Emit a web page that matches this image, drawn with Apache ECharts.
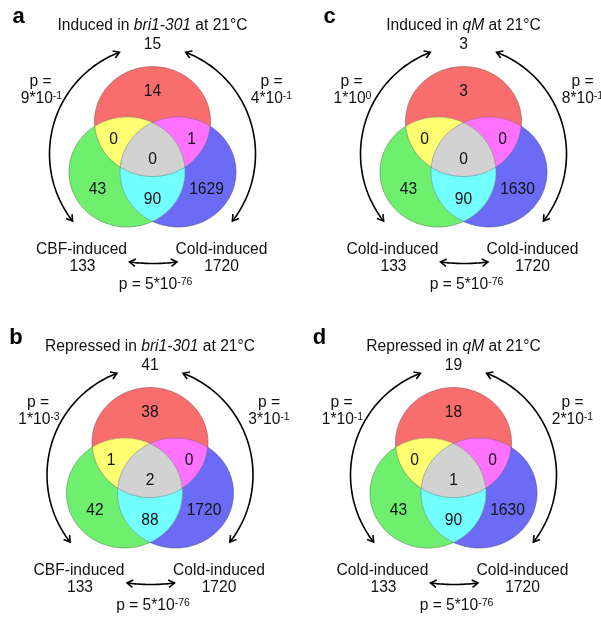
<!DOCTYPE html>
<html>
<head>
<meta charset="utf-8">
<script src="https://cdn.jsdelivr.net/npm/echarts@6/dist/echarts.min.js"></script>
<style>
  html, body { margin: 0; padding: 0; background: #fff; }
  #chart { width: 601px; height: 619px; }
</style>
</head>
<body>
<div id="chart"></div>
<script>
// ---- Panel text ----
const panelLetters = ['a', 'b', 'c', 'd'];
const topPrefix = ['Induced in ', 'Repressed in ', 'Induced in ', 'Repressed in '];
const topGenotype = ['bri1-301', 'bri1-301', 'qM', 'qM'];
const topSuffix = ' at 21°C';
const topTotals = [15, 41, 3, 19];
const leftNames = ['CBF-induced', 'CBF-induced', 'Cold-induced', 'Cold-induced'];
const leftTotals = [133, 133, 133, 133];
const rightNames = ['Cold-induced', 'Cold-induced', 'Cold-induced', 'Cold-induced'];
const rightTotals = [1720, 1720, 1720, 1720];

// ---- Region counts (top = red, left = green, right = blue) ----
const topOnly = [14, 38, 3, 18];
const topLeft = [0, 1, 0, 0];
const topRight = [1, 0, 0, 0];
const allThree = [0, 2, 0, 1];
const leftOnly = [43, 42, 43, 43];
const leftRight = [90, 88, 90, 90];
const rightOnly = [1629, 1720, 1630, 1630];

// ---- Overlap p-values: mantissa * 10^exponent ----
const pTopLeftMant = [9, 1, 1, 1];
const pTopLeftExp = [-1, -3, 0, -1];
const pTopRightMant = [4, 3, 8, 2];
const pTopRightExp = [-1, -1, -1, -1];
const pBottomMant = [5, 5, 5, 5];
const pBottomExp = [-76, -76, -76, -76];

// ---- Layout (chart units = pixels of the full-size grid) ----
const PANEL_CENTERS = [[152.5, 150], [150, 471], [463.5, 150], [453.5, 471]];
// Venn circles, drawn slightly squashed vertically (y scaled by Y_SCALE)
const Y_SCALE = 55 / 58;
const CIRCLES = {
  R: { x: 0, y: -30, r: 58 },
  G: { x: -25.5, y: 23.2, r: 58 },
  B: { x: 25.5, y: 23.2, r: 58 }
};
const REGION_STYLE = {
  topOnly:   { fill: '#F86E6E', label: [0, -58] },
  topLeft:   { fill: '#FFFF72', label: [-39, -10] },
  topRight:  { fill: '#FF72FF', label: [39, -10] },
  allThree:  { fill: '#D2D2D2', label: [0, 10] },
  leftOnly:  { fill: '#6EF06E', label: [-55, 40] },
  leftRight: { fill: '#72FFFF', label: [0, 50] },
  rightOnly: { fill: '#6B6BF5', label: [54, 40] }
};
const COUNTS = { topOnly, topLeft, topRight, allThree, leftOnly, leftRight, rightOnly };

const FONT = '"Liberation Sans", Arial, Helvetica, sans-serif';
const FS = 15.6;
const RICH = {
  n: { fontSize: FS, fontFamily: FONT, lineHeight: 17, fill: '#111' },
  i: { fontSize: FS, fontFamily: FONT, fontStyle: 'italic', lineHeight: 17, fill: '#111' },
  s: { fontSize: 10.5, fontFamily: FONT, lineHeight: 10, verticalAlign: 'top', fill: '#111' },
  L: { fontSize: 22, fontWeight: 'bold', fontFamily: FONT, fill: '#000' }
};

// ---- Circle geometry helpers ----
function intersect(c1, c2) {
  const dx = c2.x - c1.x, dy = c2.y - c1.y, d = Math.hypot(dx, dy);
  const a = (c1.r * c1.r - c2.r * c2.r + d * d) / (2 * d);
  const h = Math.sqrt(c1.r * c1.r - a * a);
  const mx = c1.x + a * dx / d, my = c1.y + a * dy / d;
  return [[mx - h * dy / d, my + h * dx / d], [mx + h * dy / d, my - h * dx / d]];
}
function inside(p, c) { return Math.hypot(p[0] - c.x, p[1] - c.y) < c.r - 1e-6; }
function split(c1, c2, c3) {
  const [p, q] = intersect(c1, c2);
  return inside(p, c3) ? { in: p, out: q } : { in: q, out: p };
}
// Points along circle c from P to Q, taking the way round whose midpoint passes pred
function arcPts(c, P, Q, pred) {
  const a0 = Math.atan2(P[1] - c.y, P[0] - c.x);
  const a1 = Math.atan2(Q[1] - c.y, Q[0] - c.x);
  let d = a1 - a0;
  while (d < 0) d += 2 * Math.PI;
  const mid = a0 + d / 2;
  if (!pred([c.x + c.r * Math.cos(mid), c.y + c.r * Math.sin(mid)])) d -= 2 * Math.PI;
  const n = Math.max(8, Math.ceil(Math.abs(d) * 40));
  const pts = [];
  for (let k = 0; k <= n; k++) {
    const t = a0 + d * k / n;
    pts.push([c.x + c.r * Math.cos(t), c.y + c.r * Math.sin(t)]);
  }
  return pts;
}
function fullCircle(c) {
  const pts = [], n = 200;
  for (let k = 0; k < n; k++) {
    const t = 2 * Math.PI * k / n;
    pts.push([c.x + c.r * Math.cos(t), c.y + c.r * Math.sin(t)]);
  }
  return pts;
}

const { R, G, B } = CIRCLES;
const RG = split(R, G, B), RB = split(R, B, G), GB = split(G, B, R);
const inR = p => inside(p, R), inG = p => inside(p, G), inB = p => inside(p, B);
const REGION_SHAPES = {
  topOnly: [arcPts(R, RG.out, RB.out, p => !inG(p) && !inB(p)), arcPts(B, RB.out, GB.in, inR), arcPts(G, GB.in, RG.out, inR)],
  topLeft: [arcPts(G, RG.out, GB.in, inR), arcPts(B, GB.in, RB.in, inG), arcPts(R, RB.in, RG.out, inG)],
  topRight: [arcPts(R, RB.out, RG.in, inB), arcPts(G, RG.in, GB.in, inB), arcPts(B, GB.in, RB.out, inR)],
  allThree: [arcPts(B, GB.in, RB.in, inG), arcPts(R, RB.in, RG.in, p => inG(p) && inB(p)), arcPts(G, RG.in, GB.in, inB)],
  leftOnly: [arcPts(G, GB.out, RG.out, p => !inR(p) && !inB(p)), arcPts(R, RG.out, RB.in, inG), arcPts(B, RB.in, GB.out, inG)],
  rightOnly: [arcPts(B, RB.out, GB.out, p => !inR(p) && !inG(p)), arcPts(G, GB.out, RG.in, inB), arcPts(R, RG.in, RB.out, inB)],
  leftRight: [arcPts(R, RB.in, RG.in, p => inG(p) && inB(p)), arcPts(G, RG.in, GB.out, inB), arcPts(B, GB.out, RB.in, inG)]
};

// Curved double arrows linking the set names
function circleArc(cx, cy, r, d0, d1) {
  const pts = [], n = 80;
  for (let k = 0; k <= n; k++) {
    const t = (d0 + (d1 - d0) * k / n) * Math.PI / 180;
    pts.push([cx + r * Math.cos(t), cy + r * Math.sin(t)]);
  }
  return pts;
}
function sagLine(x0, x1, y, sag) {
  const pts = [], n = 30;
  for (let k = 0; k <= n; k++) {
    const t = k / n;
    pts.push([x0 + (x1 - x0) * t, y + sag * (1 - (2 * t - 1) * (2 * t - 1))]);
  }
  return pts;
}
const ARROWS = [
  circleArc(6, 4, 109, -111, -218),
  circleArc(-6, 4, 109, -69, 38),
  sagLine(-23, 24.5, 112, 1.5)
];

function headPts(tip, from, len, ang) {
  const dx = from[0] - tip[0], dy = from[1] - tip[1], L = Math.hypot(dx, dy);
  const ux = dx / L, uy = dy / L, a = ang * Math.PI / 180;
  const rot = s => [tip[0] + len * (ux * Math.cos(s * a) - uy * Math.sin(s * a)),
                    tip[1] + len * (ux * Math.sin(s * a) + uy * Math.cos(s * a))];
  return [rot(1), tip, rot(-1)];
}

function pText(m, e) { return '{n|' + m + '*10}{s|' + e + '}'; }

function renderItem(params, api) {
  const i = params.dataIndex;
  const [ox, oy] = PANEL_CENTERS[i];
  const P = (p) => api.coord([ox + p[0], oy + p[1]]);
  const V = (p) => api.coord([ox + p[0], oy + p[1] * Y_SCALE]);
  const children = [];

  // Region fills
  Object.keys(REGION_SHAPES).forEach(key => {
    const pts = [].concat(...REGION_SHAPES[key]).map(V);
    children.push({ type: 'polygon', shape: { points: pts }, style: { fill: REGION_STYLE[key].fill, stroke: REGION_STYLE[key].fill, lineWidth: 0.3 } });
  });
  // Thin circle outlines
  [R, G, B].forEach(c => {
    children.push({ type: 'polygon', shape: { points: fullCircle(c).map(V) }, style: { fill: null, stroke: 'rgba(70,70,70,0.45)', lineWidth: 0.8 } });
  });
  // Region counts
  Object.keys(REGION_STYLE).forEach(key => {
    const pos = P(REGION_STYLE[key].label);
    children.push({ type: 'text', x: pos[0], y: pos[1], style: { text: String(COUNTS[key][i]), font: FS + 'px ' + FONT, fill: '#111', align: 'center', verticalAlign: 'middle' } });
  });

  // Arrows
  ARROWS.forEach(rel => {
    const pts = rel.map(P);
    const st = { stroke: '#000', lineWidth: 1.6, fill: null };
    children.push({ type: 'polyline', shape: { points: pts }, style: st });
    const n = pts.length;
    children.push({ type: 'polyline', shape: { points: headPts(pts[n - 1], pts[n - 3], 7, 32) }, style: st });
    children.push({ type: 'polyline', shape: { points: headPts(pts[0], pts[2], 7, 32) }, style: st });
  });

  // Text blocks
  const texts = [
    [[-134, -133], '{L|' + panelLetters[i] + '}'],
    [[0, -124], '{n|' + topPrefix[i] + '}{i|' + topGenotype[i] + '}{n|' + topSuffix + '}'],
    [[0, -105], '{n|' + topTotals[i] + '}'],
    [[-112, -68], '{n|p =}'],
    [[-111, -51], pText(pTopLeftMant[i], pTopLeftExp[i])],
    [[119, -68], '{n|p =}'],
    [[119, -51], pText(pTopRightMant[i], pTopRightExp[i])],
    [[-71, 100], '{n|' + leftNames[i] + '}'],
    [[-70, 117], '{n|' + leftTotals[i] + '}'],
    [[69, 100], '{n|' + rightNames[i] + '}'],
    [[69, 117], '{n|' + rightTotals[i] + '}'],
    [[3, 135], '{n|p = ' + pBottomMant[i] + '*10}{s|' + pBottomExp[i] + '}']
  ];
  texts.forEach(([pos, txt]) => {
    const q = P(pos);
    children.push({
      type: 'text', x: q[0], y: q[1],
      style: { text: txt, align: 'center', verticalAlign: 'middle', font: FS + 'px ' + FONT, fill: '#111', rich: RICH }
    });
  });

  return { type: 'group', children };
}

const chart = echarts.init(document.getElementById('chart'), null, { renderer: 'canvas' });
chart.setOption({
  animation: false,
  backgroundColor: '#fff',
  grid: { left: 0, right: 0, top: 0, bottom: 0 },
  xAxis: { type: 'value', min: 0, max: 601, show: false },
  yAxis: { type: 'value', min: 0, max: 619, inverse: true, show: false },
  series: [{
    type: 'custom',
    coordinateSystem: 'cartesian2d',
    clip: false,
    data: panelLetters.map((_, k) => [k, 0]),
    renderItem
  }]
});
</script>
</body>
</html>
